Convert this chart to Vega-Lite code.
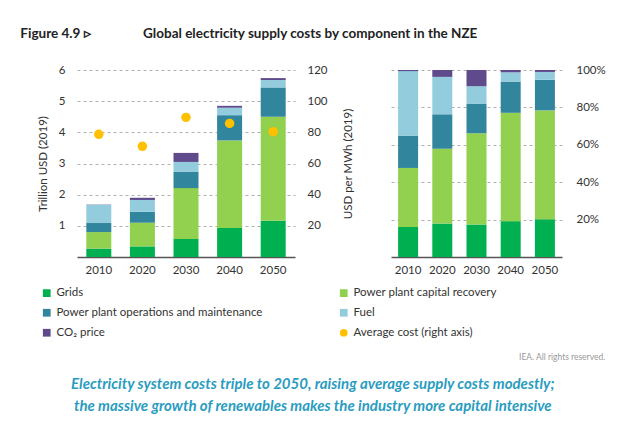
{
  "$schema": "https://vega.github.io/schema/vega-lite/v6.json",
  "background": "white",
  "padding": {"left": 20, "top": 26, "right": 6, "bottom": 4},
  "config": {
    "view": {"stroke": null},
    "font": "Lato",
    "axis": {"labelFont": "Lato", "titleFont": "Lato", "labelColor": "#333", "titleColor": "#333", "labelFontSize": 11.5, "titleFontSize": 11.5, "titleFontWeight": "normal", "ticks": false},
    "legend": {"labelFont": "Lato", "labelFontSize": 11.5, "labelColor": "#333"}
  },
  "title": {
    "text": ["Electricity system costs triple to 2050, raising average supply costs modestly;", "the massive growth of renewables makes the industry more capital intensive"],
    "orient": "bottom", "anchor": "middle", "font": "Lato", "fontSize": 15, "fontStyle": "italic", "fontWeight": "bold", "color": "#2a9cbf", "lineHeight": 22, "offset": 15, "dx": 0
  },
  "datasets": {
    "costs": [
      {"year": "2010", "component": "Grids", "k": 1, "value": 0.27},
      {"year": "2010", "component": "Power plant capital recovery", "k": 2, "value": 0.53},
      {"year": "2010", "component": "Power plant operations and maintenance", "k": 3, "value": 0.29},
      {"year": "2010", "component": "Fuel", "k": 4, "value": 0.58},
      {"year": "2010", "component": "CO₂ price", "k": 5, "value": 0.01},
      {"year": "2020", "component": "Grids", "k": 1, "value": 0.34},
      {"year": "2020", "component": "Power plant capital recovery", "k": 2, "value": 0.76},
      {"year": "2020", "component": "Power plant operations and maintenance", "k": 3, "value": 0.35},
      {"year": "2020", "component": "Fuel", "k": 4, "value": 0.38},
      {"year": "2020", "component": "CO₂ price", "k": 5, "value": 0.07},
      {"year": "2030", "component": "Grids", "k": 1, "value": 0.58},
      {"year": "2030", "component": "Power plant capital recovery", "k": 2, "value": 1.63},
      {"year": "2030", "component": "Power plant operations and maintenance", "k": 3, "value": 0.53},
      {"year": "2030", "component": "Fuel", "k": 4, "value": 0.31},
      {"year": "2030", "component": "CO₂ price", "k": 5, "value": 0.29},
      {"year": "2040", "component": "Grids", "k": 1, "value": 0.93},
      {"year": "2040", "component": "Power plant capital recovery", "k": 2, "value": 2.81},
      {"year": "2040", "component": "Power plant operations and maintenance", "k": 3, "value": 0.81},
      {"year": "2040", "component": "Fuel", "k": 4, "value": 0.24},
      {"year": "2040", "component": "CO₂ price", "k": 5, "value": 0.06},
      {"year": "2050", "component": "Grids", "k": 1, "value": 1.16},
      {"year": "2050", "component": "Power plant capital recovery", "k": 2, "value": 3.34},
      {"year": "2050", "component": "Power plant operations and maintenance", "k": 3, "value": 0.94},
      {"year": "2050", "component": "Fuel", "k": 4, "value": 0.24},
      {"year": "2050", "component": "CO₂ price", "k": 5, "value": 0.06}
    ],
    "avg": [
      {"year": "2010", "avg": 78.7},
      {"year": "2020", "avg": 71},
      {"year": "2030", "avg": 89.6},
      {"year": "2040", "avg": 85.7},
      {"year": "2050", "avg": 80.4}
    ]
  },
  "vconcat": [
    {
      "title": {"text": "IEA. All rights reserved.", "orient": "bottom", "anchor": "end", "font": "Lato", "fontSize": 8.5, "fontWeight": "normal", "color": "#999", "offset": 14},
      "resolve": {"scale": {"color": "independent"}, "legend": {"color": "independent"}},
      "vconcat": [
        {
          "title": {"text": "Figure 4.9 ▹\u00a0\u00a0\u00a0\u00a0\u00a0\u00a0\u00a0\u00a0\u00a0\u00a0\u00a0\u00a0\u00a0\u00a0\u00a0\u00a0Global electricity supply costs by component in the NZE", "anchor": "start", "font": "Lato", "fontSize": 13.5, "fontWeight": "bold", "color": "#222", "offset": 24, "dx": -17},
          "spacing": 37,
          "hconcat": [
            {
              "width": 218,
              "height": 187,
              "layer": [
                {
                  "data": {"name": "costs"},
                  "mark": {"type": "bar", "width": 25},
                  "encoding": {
                    "x": {"field": "year", "type": "ordinal", "title": null, "axis": {"labelAngle": 0, "domainColor": "#555", "domainWidth": 1.5, "labelPadding": 7}},
                    "y": {"field": "value", "type": "quantitative", "stack": "zero", "scale": {"domain": [0, 6]}, "axis": {"title": "Trillion USD (2019)", "values": [1, 2, 3, 4, 5, 6], "domain": false, "labelPadding": 12, "titlePadding": 10, "gridDash": [3, 3], "gridColor": "#b0b0b0"}},
                    "color": {
                      "field": "component", "type": "nominal",
                      "scale": {"domain": ["Grids", "Power plant capital recovery", "Power plant operations and maintenance", "Fuel", "CO₂ price", "Average cost (right axis)"], "range": ["#00b050", "#92d050", "#31859c", "#93cddd", "#5f4b8b", "#ffc000"]},
                      "legend": {"title": null, "orient": "none", "direction": "horizontal", "legendX": -36, "legendY": 217, "columns": 2, "columnPadding": 75, "rowPadding": 7, "labelLimit": 400, "symbolType": "square", "symbolSize": 60, "symbolOffset": 0,
                        "encode": {"symbols": {"update": {"shape": {"signal": "datum.value === 'Average cost (right axis)' ? 'circle' : 'square'"}}}}}
                    },
                    "order": {"field": "k", "type": "quantitative"}
                  }
                },
                {
                  "data": {"name": "avg"},
                  "mark": {"type": "point", "filled": true, "size": 90, "opacity": 1},
                  "encoding": {
                    "x": {"field": "year", "type": "ordinal"},
                    "y": {"field": "avg", "type": "quantitative", "scale": {"domain": [0, 120]}, "axis": {"orient": "right", "title": "USD per MWh (2019)", "titleAngle": 270, "values": [20, 40, 60, 80, 100, 120], "domain": false, "grid": false, "labelPadding": 12, "titlePadding": 26}},
                    "color": {"datum": "Average cost (right axis)"}
                  }
                }
              ],
              "resolve": {"scale": {"y": "independent"}}
            },
            {
              "width": 171,
              "height": 187,
              "data": {"name": "costs"},
              "mark": {"type": "bar", "width": 20},
              "encoding": {
                "x": {"field": "year", "type": "ordinal", "title": null, "axis": {"labelAngle": 0, "domainColor": "#555", "domainWidth": 1.5, "labelPadding": 7}},
                "y": {"field": "value", "type": "quantitative", "stack": "normalize", "axis": {"orient": "right", "title": null, "format": ".0%", "values": [0.2, 0.4, 0.6, 0.8, 1], "domain": false, "labelPadding": 14, "gridDash": [3, 3], "gridColor": "#b0b0b0"}},
                "color": {"field": "component", "type": "nominal"},
                "order": {"field": "k", "type": "quantitative"}
              }
            }
          ]
        }
      ]
    }
  ]
}
